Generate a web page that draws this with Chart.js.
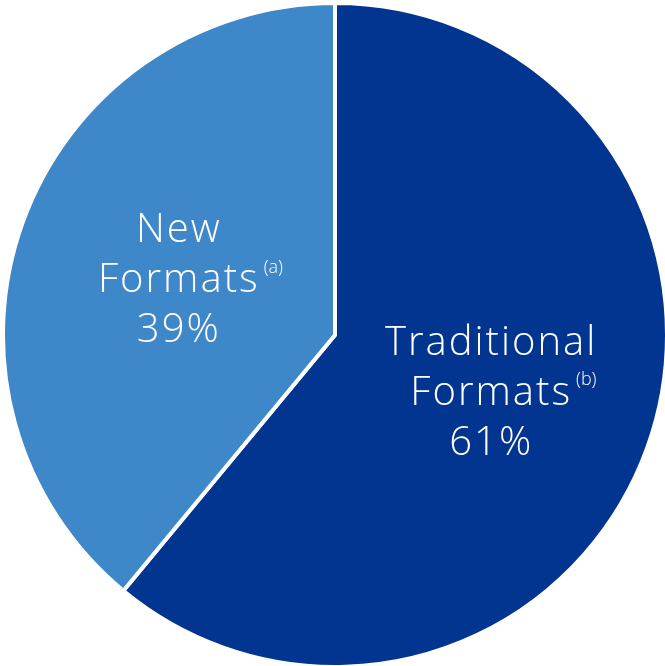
<!DOCTYPE html>
<html>
<head>
<meta charset="utf-8">
<script src="https://cdn.jsdelivr.net/npm/chart.js@4/dist/chart.umd.min.js"></script>
<style>
  html, body { margin: 0; padding: 0; background: #fff; }
  #wrap { width: 665px; height: 666px; position: relative; }
</style>
</head>
<body>
<div id="wrap"><canvas id="pieChart"></canvas></div>
<script>
// Chart data
const categories = ["Traditional Formats", "New Formats"];
const shares = [61, 39];
const notes = ["(b)", "(a)"];
const labelLines = [["Traditional", "Formats"], ["New", "Formats"]];
const sliceColors = ["#02358f", "#3e87c9"];

// Draw the labels inside each slice
const sliceLabels = {
    id: "sliceLabels",
    afterDatasetsDraw(chart) {
        const ctx = chart.ctx;
        const meta = chart.getDatasetMeta(0);
        meta.data.forEach((arc, i) => {
            const pos = arc.tooltipPosition();
            const lines = labelLines[i].concat([shares[i] + "%"]);
            const lineH = 50;
            ctx.save();
            ctx.fillStyle = "#ffffff";
            ctx.textAlign = "center";
            ctx.textBaseline = "middle";
            ctx.font = "300 40px 'Open Sans', Lato, sans-serif";
            ctx.letterSpacing = "2px";
            lines.forEach((txt, j) => {
                const y = pos.y + 2 + (j - 1) * lineH;
                ctx.fillText(txt, pos.x, y);
                // footnote marker after "Formats"
                if (j === 1) {
                    const w = ctx.measureText(txt).width;
                    ctx.save();
                    ctx.textAlign = "left";
                    ctx.letterSpacing = "0px";
                    ctx.font = "300 18px 'Open Sans', Lato, sans-serif";
                    ctx.fillText(notes[i], pos.x + w / 2 + 4, y - 13);
                    ctx.restore();
                }
            });
            ctx.restore();
        });
    }
};

new Chart(document.getElementById("pieChart"), {
    type: "pie",
    data: {
        labels: categories,
        datasets: [{
            data: shares,
            backgroundColor: sliceColors,
            borderColor: "#ffffff",
            borderWidth: 4
        }]
    },
    options: {
        responsive: true,
        maintainAspectRatio: false,
        animation: false,
        radius: 332,
        layout: { padding: { top: 4, bottom: 0, left: 5, right: 0 } },
        plugins: {
            legend: { display: false },
            tooltip: { enabled: false }
        }
    },
    plugins: [sliceLabels]
});
</script>
</body>
</html>
